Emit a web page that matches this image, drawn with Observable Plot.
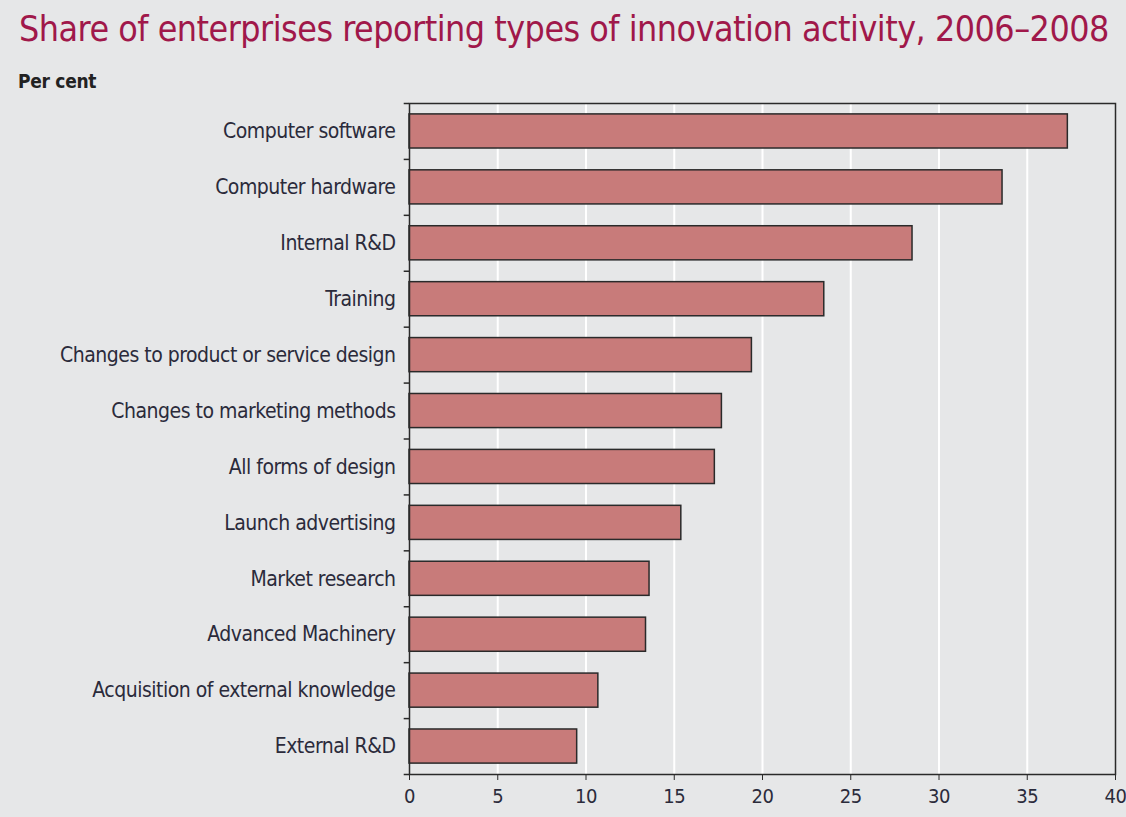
<!DOCTYPE html>
<html><head><meta charset="utf-8">
<script src="https://cdn.jsdelivr.net/npm/d3@7"></script>
<script src="https://cdn.jsdelivr.net/npm/@observablehq/plot@0.6"></script>
<style>
html,body{margin:0;padding:0;background:#e6e7e8;}
body{width:1126px;height:817px;overflow:hidden;position:relative;font-family:"DejaVu Sans Condensed","DejaVu Sans",sans-serif;font-stretch:condensed;}
#title{position:absolute;left:19px;top:8px;font-size:35.5px;letter-spacing:-0.5px;color:#a0184a;white-space:nowrap;}
#sub{position:absolute;left:18px;top:70px;font-size:19px;font-weight:bold;color:#222;letter-spacing:-0.3px;}
#chart{position:absolute;left:0;top:100px;}
#chart svg text{letter-spacing:-0.5px;}
</style></head>
<body>
<div id="title">Share of enterprises reporting types of innovation activity, 2006–2008</div>
<div id="sub">Per cent</div>
<div id="chart"></div>
<script>
const categories = [
  "Computer software",
  "Computer hardware",
  "Internal R&D",
  "Training",
  "Changes to product or service design",
  "Changes to marketing methods",
  "All forms of design",
  "Launch advertising",
  "Market research",
  "Advanced Machinery",
  "Acquisition of external knowledge",
  "External R&D"
];
const values = [37.3, 33.6, 28.5, 23.5, 19.4, 17.7, 17.3, 15.4, 13.6, 13.4, 10.7, 9.5];
const xTicks = [0, 5, 10, 15, 20, 25, 30, 35, 40];

const data = categories.map((c, i) => ({category: c, value: values[i]}));
const W = 1126, H = 717, mt = 3, mb = 43, ml = 409, mr = 11;
const step = (H - mt - mb) / categories.length;
const font = '"DejaVu Sans Condensed","DejaVu Sans",sans-serif';

const chart = Plot.plot({
  width: W, height: H,
  marginTop: mt, marginBottom: mb, marginLeft: ml, marginRight: mr,
  style: {background: "transparent", fontFamily: font, color: "#2b2b3b", overflow: "visible"},
  x: {domain: [0, 40], label: null},
  y: {domain: categories, paddingInner: 0.39, paddingOuter: 0.195, round: false, label: null},
  marks: [
    Plot.gridX(xTicks.filter(t => t > 0 && t < 40), {stroke: "white", strokeOpacity: 1, strokeWidth: 2}),
    Plot.barX(data, {x: "value", y: "category", fill: "#c87b7a", stroke: "#2a2a2a", strokeWidth: 1.5}),
    Plot.frame({stroke: "#2a2a2a", strokeWidth: 1.5}),
    Plot.axisX({ticks: xTicks, tickSize: 6, tickPadding: 8, fontSize: 20, label: null, stroke: "#2a2a2a"}),
    Plot.axisY({tickSize: 0, tickPadding: 14, fontSize: 21, label: null}),
    Plot.ruleY(categories, {y: d => d, x1: -0.3, x2: 0, dy: -step / 2, stroke: "#2a2a2a", strokeWidth: 1.5}),
    Plot.ruleY([categories[categories.length - 1]], {y: d => d, x1: -0.3, x2: 0, dy: step / 2, stroke: "#2a2a2a", strokeWidth: 1.5})
  ]
});
document.getElementById("chart").appendChild(chart);
</script>
</body></html>
